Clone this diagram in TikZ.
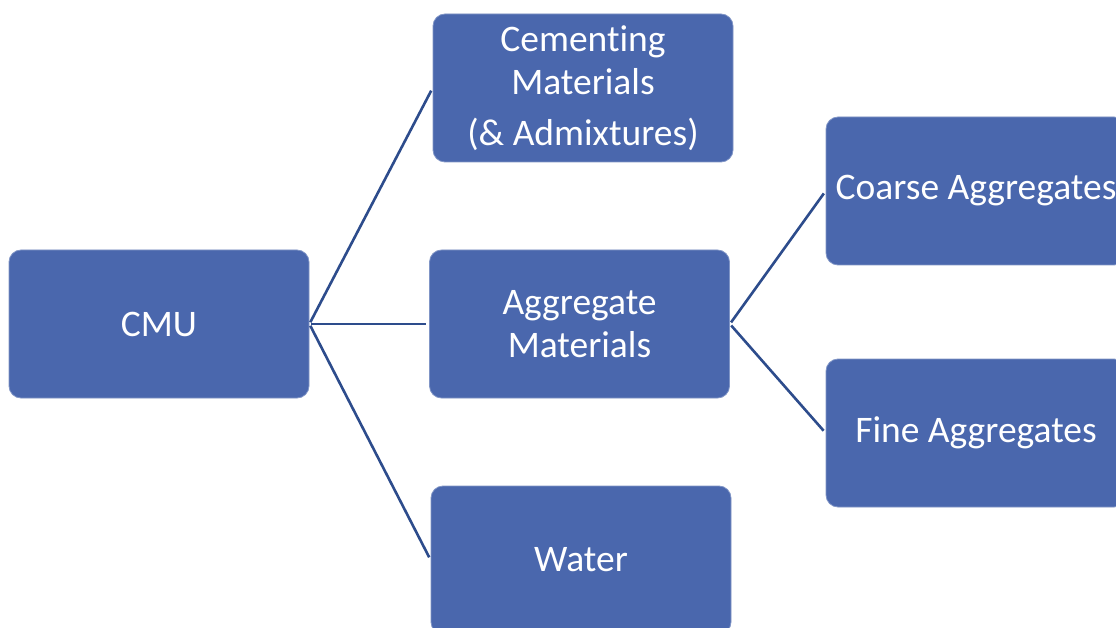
\documentclass[tikz,border=0pt]{standalone}
\usepackage{fontspec}
\setmainfont[Ligatures=NoCommon]{Carlito}
\definecolor{boxblue}{RGB}{74,103,173}
\definecolor{linkblue}{RGB}{45,76,140}
\tikzset{
  part/.style={rectangle, rounded corners=12pt, fill=boxblue, draw=boxblue!70!white, line width=0.8pt,
    minimum width=300pt, minimum height=148pt, inner sep=0pt,
    text=white, align=center, font=\fontsize{37.5}{43}\selectfont},
  link/.style={draw=linkblue, line width=2.6pt, shorten <=2pt, shorten >=3pt}
}
\begin{document}
\begin{tikzpicture}[x=1pt, y=-1pt]
  \clip (0,0) rectangle (1116,628);
  \fill[white] (0,0) rectangle (1116,628);

  % tree of components
  \node[part] (cmu)    at (159,324)   {CMU};
  \node[part] (cement) at (583,88)    {Cementing\\Materials\\[8pt](\& Admixtures)};
  \node[part] (aggr)   at (579.5,324) {Aggregate\\Materials};
  \node[part] (water)  at (581,560)   {Water};
  \node[part] (coarse) at (976,191)   {Coarse Aggregates};
  \node[part] (fine)   at (976,433)   {Fine Aggregates};

  % connectors
  \draw[link] (cmu.east) -- (cement.west);
  \draw[link] (cmu.east) -- (aggr.west);
  \draw[link] (cmu.east) -- (water.west);
  \draw[link] (aggr.east) -- (coarse.west);
  \draw[link] (aggr.east) -- (fine.west);
\end{tikzpicture}
\end{document}
